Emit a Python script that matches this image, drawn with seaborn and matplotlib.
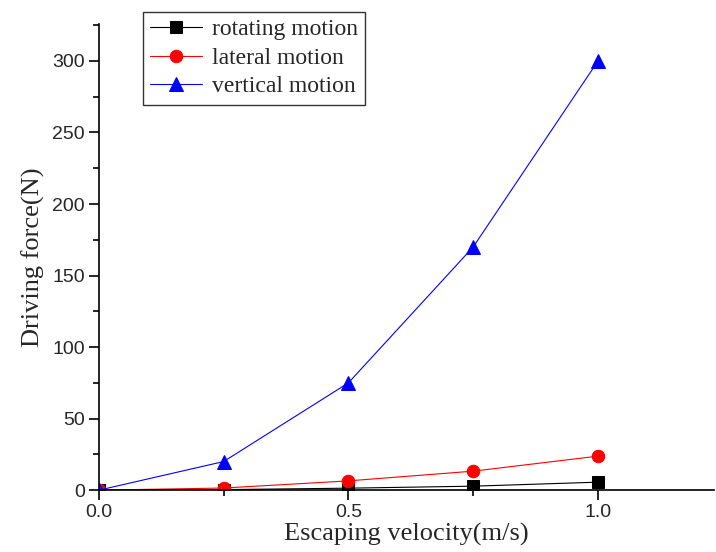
import numpy as np
import pandas as pd
import matplotlib
matplotlib.use("Agg")
import matplotlib.pyplot as plt
import seaborn as sns
from matplotlib.ticker import MultipleLocator

velocity = [0.0, 0.25, 0.5, 0.75, 1.0]
rotating = [0.0, 0.4, 1.4, 2.8, 5.6]
lateral = [0.0, 1.5, 6.5, 13.3, 23.8]
vertical = [0.0, 20.0, 75.0, 170.0, 300.0]
series_names = ["rotating motion", "lateral motion", "vertical motion"]

sns.set_style("ticks")
plt.rcParams['font.family'] = ['Liberation Sans', 'DejaVu Sans']

fig = plt.figure(figsize=(7.16, 5.52), dpi=100)
ax = fig.add_axes([0.138, 0.112, 0.859, 0.845])

styles = [("black", "s", 8), ("red", "o", 9), ("blue", "^", 10)]
for name, vals, (c, m, ms) in zip(series_names, [rotating, lateral, vertical], styles):
    df = pd.DataFrame({"x": velocity, "y": vals})
    sns.lineplot(data=df, x="x", y="y", ax=ax, color=c, marker=m, markersize=ms,
                 markeredgecolor=c, linewidth=0.8, label=name, alpha=1)

ax.set_xlim(0, 1.232)
ax.set_ylim(0, 326)
ax.xaxis.set_major_locator(MultipleLocator(0.5))
ax.xaxis.set_minor_locator(MultipleLocator(0.25))
ax.yaxis.set_major_locator(MultipleLocator(50))
ax.yaxis.set_minor_locator(MultipleLocator(25))
ax.tick_params(axis='both', which='major', direction='out', length=7, width=1.2, labelsize=14,
               color='black', pad=3)
ax.tick_params(axis='both', which='minor', direction='out', length=4, width=1.2, color='black')
ax.xaxis.set_major_formatter(matplotlib.ticker.FormatStrFormatter('%.1f'))
for s in ['top', 'right']:
    ax.spines[s].set_visible(False)
for s in ['left', 'bottom']:
    ax.spines[s].set_linewidth(1.2)
    ax.spines[s].set_color('black')

ax.set_xlabel("Escaping velocity(m/s)", fontsize=19, family=['Liberation Serif'], labelpad=1)
ax.set_ylabel("Driving force(N)", fontsize=19, family=['Liberation Serif'], labelpad=5)

leg = ax.legend(loc='upper left', bbox_to_anchor=(0.072, 1.026), frameon=True, fancybox=False,
                edgecolor='black', prop={'family': 'Liberation Serif', 'size': 17},
                handlelength=2.2, borderpad=0.3, labelspacing=0.3, handletextpad=0.4,
                borderaxespad=0)
leg.get_frame().set_linewidth(1.0)

fig.savefig("out.png", dpi=100)
